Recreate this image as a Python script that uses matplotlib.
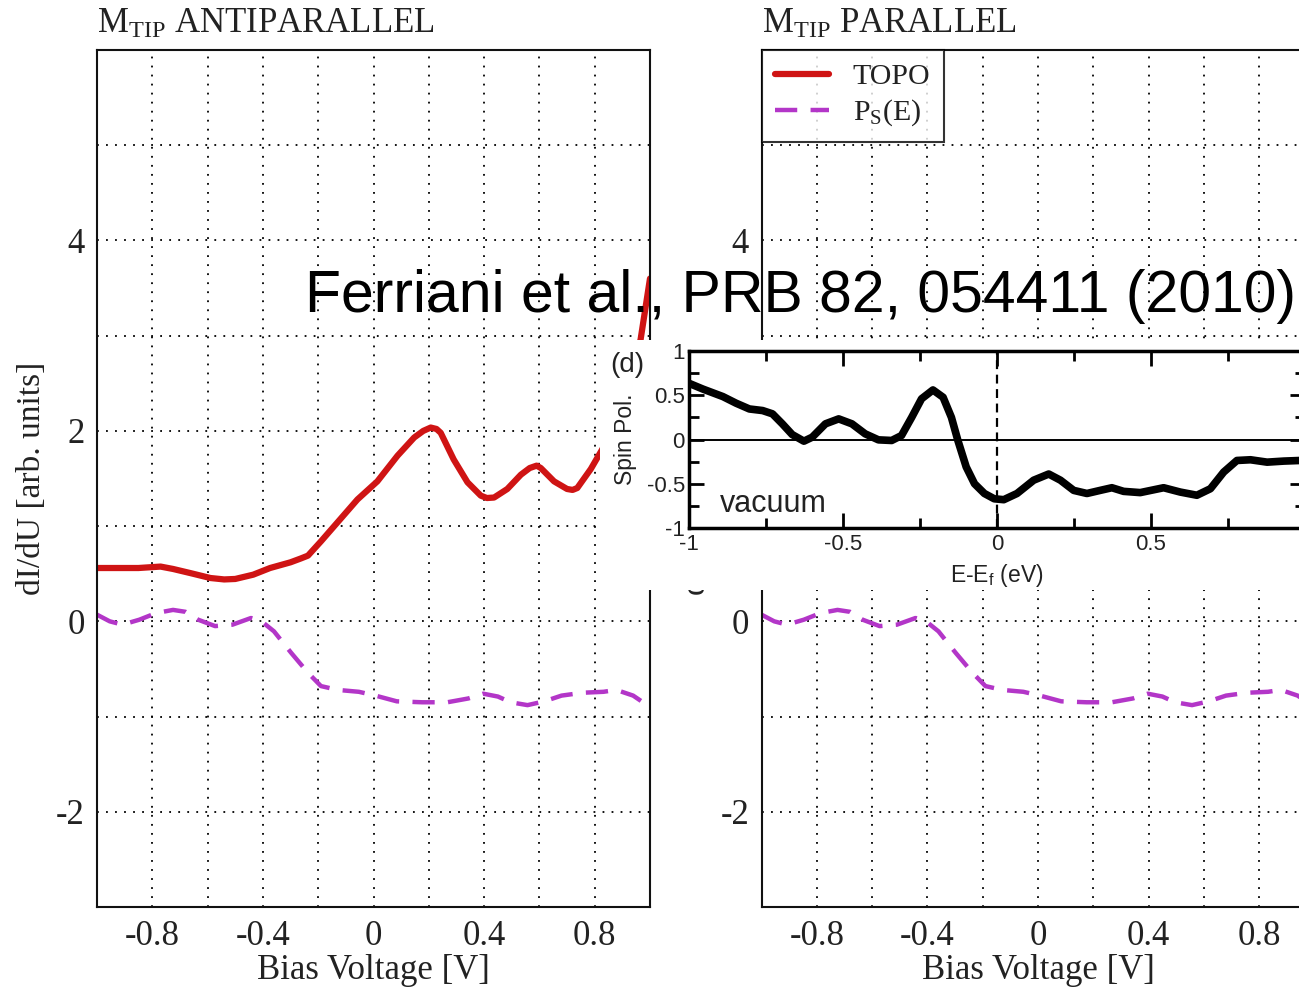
import matplotlib
matplotlib.use('Agg')
import matplotlib.pyplot as plt
from matplotlib.ticker import MultipleLocator

plt.rcParams['font.family'] = ['Liberation Serif', 'DejaVu Serif']
plt.rcParams['mathtext.fontset'] = 'custom'
plt.rcParams['mathtext.rm'] = 'Liberation Serif'
plt.rcParams['mathtext.sf'] = 'Liberation Sans'
plt.rcParams['mathtext.it'] = 'Liberation Serif:italic'

SERIF = 'Liberation Serif'
SANS = 'Liberation Sans'

# ---------------- data ----------------
panel_titles = [r'M$_{\mathrm{TIP}}$ ANTIPARALLEL', r'M$_{\mathrm{TIP}}$ PARALLEL']

bias = [-1.0, -0.85, -0.77, -0.725, -0.66, -0.59, -0.54, -0.5, -0.435, -0.374, -0.30,
        -0.263, -0.237, -0.19, -0.13, -0.058, 0.014, 0.087, 0.147, 0.18, 0.207, 0.228, 0.243,
        0.29, 0.34, 0.388, 0.41, 0.436, 0.484, 0.533, 0.565, 0.59, 0.605, 0.653, 0.70,
        0.72, 0.737, 0.786, 0.834, 0.88, 0.93, 0.966, 1.0]
topo = [0.56, 0.56, 0.575, 0.55, 0.505, 0.455, 0.44, 0.445, 0.49, 0.56, 0.62,
        0.66, 0.69, 0.84, 1.04, 1.28, 1.47, 1.74, 1.93, 2.0, 2.035, 2.02, 1.98,
        1.70, 1.46, 1.32, 1.295, 1.30, 1.39, 1.54, 1.61, 1.635, 1.61, 1.47, 1.39,
        1.38, 1.40, 1.60, 1.84, 2.15, 2.55, 2.96, 3.6]

ps_bias = [-1.0, -0.954, -0.908, -0.847, -0.786, -0.725, -0.68, -0.634, -0.573, -0.51,
           -0.443, -0.405, -0.36, -0.298, -0.237, -0.19, -0.13, -0.053, 0.007, 0.084,
           0.176, 0.267, 0.343, 0.397, 0.45, 0.496, 0.557, 0.618, 0.68, 0.756,
           0.832, 0.878, 0.939, 1.0]
ps = [0.07, 0.0, -0.035, 0.017, 0.087, 0.12, 0.1, 0.017, -0.05, -0.035,
      0.035, 0.0, -0.105, -0.33, -0.54, -0.68, -0.72, -0.74, -0.78, -0.84,
      -0.85, -0.85, -0.81, -0.76, -0.79, -0.85, -0.88, -0.84, -0.78, -0.75,
      -0.74, -0.72, -0.78, -0.9]

energy = [-1.0, -0.955, -0.89, -0.847, -0.804, -0.761, -0.729, -0.697, -0.665, -0.627,
          -0.6, -0.557, -0.514, -0.471, -0.428, -0.385, -0.342, -0.31, -0.277, -0.245,
          -0.208, -0.175, -0.148, -0.127, -0.1, -0.073, -0.041, -0.009, 0.022, 0.065,
          0.119, 0.168, 0.206, 0.249, 0.292, 0.335, 0.373, 0.411, 0.465, 0.541,
          0.595, 0.649, 0.693, 0.736, 0.779, 0.823, 0.877, 0.931, 1.0]
spin_pol = [0.635, 0.57, 0.485, 0.41, 0.345, 0.327, 0.29, 0.177, 0.056, -0.019,
            0.026, 0.177, 0.233, 0.177, 0.064, -0.004, -0.011, 0.045, 0.25, 0.46,
            0.56, 0.477, 0.25, -0.011, -0.31, -0.5, -0.61, -0.67, -0.68, -0.61,
            -0.46, -0.39, -0.46, -0.575, -0.61, -0.575, -0.545, -0.586, -0.6, -0.545,
            -0.594, -0.63, -0.556, -0.368, -0.237, -0.229, -0.256, -0.244, -0.235]

bias_ticks = [-0.8, -0.4, 0, 0.4, 0.8]
bias_ticklabels = ['-0.8', '-0.4', '0', '0.4', '0.8']
didu_ticks = [-2, 0, 2, 4]
didu_ticklabels = ['-2', '0', '2', '4']
e_ticks = [-1, -0.5, 0, 0.5, 1]
e_ticklabels = ['-1', '-0.5', '0', '0.5', '']
sp_ticks = [-1, -0.5, 0, 0.5, 1]
sp_ticklabels = ['-1', '-0.5', '0', '0.5', '1']

RED = '#cf1414'
MAG = '#b336c8'
TXT = '#222222'

W, H = 1299, 988
fig = plt.figure(figsize=(W / 100, H / 100), dpi=100)


def rect(l, t, r, b):
    return [l / W, 1 - b / H, (r - l) / W, (b - t) / H]


for i, left in enumerate([97, 761.5]):
    ax = fig.add_axes(rect(left, 50, left + 553, 907))
    ax.set_xlim(-1, 1)
    ax.set_ylim(-3, 6)
    ax.plot(bias, topo, color=RED, lw=4.5, solid_joinstyle='round',
            solid_capstyle='round', label='TOPO')
    ax.plot(ps_bias, ps, color=MAG, lw=3.2, linestyle=(0, (5, 3)),
            dash_joinstyle='round', label=r'P$_{\mathrm{S}}$(E)')
    ax.set_xticks(bias_ticks, labels=bias_ticklabels, fontsize=25,
                  fontfamily=SERIF, color=TXT)
    ax.set_yticks(didu_ticks, labels=didu_ticklabels, fontsize=25,
                  fontfamily=SERIF, color=TXT)
    ax.xaxis.set_minor_locator(MultipleLocator(0.2))
    ax.yaxis.set_minor_locator(MultipleLocator(1))
    ax.tick_params(which='both', length=0)
    ax.tick_params(axis='x', pad=9)
    ax.tick_params(axis='y', pad=9)
    ax.grid(True, which='both', color='black', linestyle=(0, (1, 4)), linewidth=1.3)
    for s in ax.spines.values():
        s.set_linewidth(1.5)
        s.set_color('#111111')
    ax.set_xlabel('Bias Voltage [V]', fontsize=25, color=TXT)
    ax.xaxis.set_label_coords(0.5, -0.055)
    ax.set_ylabel('dI/dU [arb. units]', fontsize=24, color=TXT)
    ax.yaxis.set_label_coords(-0.09, 0.5)
    ax.text(0, 1 + 17 / 857, panel_titles[i], transform=ax.transAxes,
            fontsize=25, va='baseline', ha='left', color=TXT)
    if i == 1:
        leg = ax.legend(loc='upper left', fontsize=21.5, frameon=True, fancybox=False,
                        borderaxespad=0, handlelength=1.8, handletextpad=0.8,
                        borderpad=0.45, labelspacing=0.25)
        leg.get_frame().set_edgecolor('black')
        leg.get_frame().set_linewidth(1.5)
        for t in leg.get_texts():
            t.set_color(TXT)

# white box behind inset
box = fig.add_axes(rect(600, 340, 1299, 590))
box.set_facecolor('white')
box.set_xticks([])
box.set_yticks([])
for s in box.spines.values():
    s.set_visible(False)

ins = fig.add_axes(rect(689, 351, 1305, 528))
ins.set_xlim(-1, 1)
ins.set_ylim(-1, 1)
ins.plot(energy, spin_pol, color='black', lw=5.5, solid_joinstyle='round',
         solid_capstyle='round')
ins.axhline(0, color='black', lw=1.4)
ins.axvline(0, color='black', lw=1.6, linestyle=(0, (4, 2.5)))
ins.set_xticks(e_ticks, labels=e_ticklabels, fontsize=16, fontfamily=SANS, color=TXT)
ins.set_yticks(sp_ticks, labels=sp_ticklabels, fontsize=16, fontfamily=SANS, color=TXT)
ins.xaxis.set_minor_locator(MultipleLocator(0.25))
ins.yaxis.set_minor_locator(MultipleLocator(0.25))
ins.tick_params(which='both', direction='in', top=True, right=True, width=2)
ins.tick_params(which='major', length=11)
ins.tick_params(which='minor', length=7)
ins.tick_params(axis='x', pad=4)
ins.tick_params(axis='y', pad=3)
for s in ins.spines.values():
    s.set_linewidth(2.5)
ins.set_xlabel(r'E-E$_{\mathsf{f}}$ (eV)', fontsize=16.5, fontfamily=SANS, color=TXT)
ins.xaxis.set_label_coords(0.5, -0.19)
ins.set_ylabel('Spin Pol.', fontsize=16.5, fontfamily=SANS, color=TXT)
ins.yaxis.set_label_coords(-0.084, 0.5)
ins.text(-0.9, -0.82, 'vacuum', fontsize=22, fontfamily=SANS, va='baseline', color=TXT)

fig.text(610 / W, 1 - 372 / H, '(d)', fontsize=20, fontfamily=SANS, va='baseline', color=TXT)
fig.text(305 / W, 1 - 312 / H, 'Ferriani et al., PRB 82, 054411 (2010)',
         fontsize=42.4, fontfamily=SANS, va='baseline', ha='left', color='black')

fig.savefig('out.png', dpi=100)
